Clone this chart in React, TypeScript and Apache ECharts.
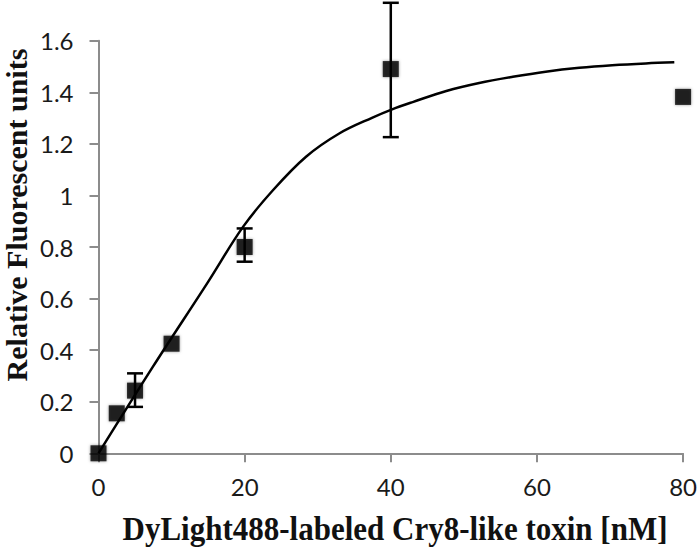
import React, { useEffect, useRef } from "react";
import * as echarts from "echarts";

const pointX = [0, 2.5, 5, 10, 20, 40, 80];
const pointY = [0, 0.155, 0.243, 0.425, 0.8, 1.49, 1.382];
const errLow = [0, 0, 0.18, 0, 0.743, 1.226, 0];
const errHigh = [0, 0, 0.31, 0, 0.872, 1.747, 0];
const hasErr = [false, false, true, false, true, true, false];

const curveX = [0, 7.45, 15, 19.8, 23.9, 28.4, 33, 37.5, 40.1, 43, 47.6, 52.1, 56.7, 61.2, 65.8, 70.3, 74.9, 78.8];
const curveY = [0, 0.336, 0.665, 0.879, 1.021, 1.15, 1.241, 1.302, 1.333, 1.362, 1.405, 1.436, 1.46, 1.48, 1.495, 1.505, 1.512, 1.516];

const xTicks = [0, 20, 40, 60, 80];
const yTicks = [0, 0.2, 0.4, 0.6, 0.8, 1, 1.2, 1.4, 1.6];

const xTitle = "DyLight488-labeled Cry8-like toxin [nM]";
const yTitle = "Relative Fluorescent units";

export default function App() {
  const ref = useRef<HTMLDivElement>(null);
  useEffect(() => {
    if (!ref.current) return;
    const chart = echarts.init(ref.current, null, { renderer: "svg" });
    const axisColor = "#8c8c8c";
    const labelFont = { fontFamily: "Lato", fontSize: 24, color: "#1a1a1a" };
    const errData = pointX
      .map((x, i) => (hasErr[i] ? [x, errLow[i], errHigh[i]] : null))
      .filter((d) => d !== null) as number[][];
    chart.setOption({
      animation: false,
      backgroundColor: "#ffffff",
      grid: { left: 98.5, right: 16, top: 40.7, bottom: 95.7, containLabel: false },
      xAxis: {
        type: "value",
        min: xTicks[0],
        max: xTicks[xTicks.length - 1],
        interval: 20,
        axisLine: { show: true, lineStyle: { color: axisColor, width: 2 } },
        axisTick: { show: true, length: 9, lineStyle: { color: axisColor, width: 2 } },
        axisLabel: { ...labelFont, margin: 21 },
        splitLine: { show: false },
      },
      yAxis: {
        type: "value",
        min: yTicks[0],
        max: yTicks[yTicks.length - 1],
        interval: 0.2,
        axisLine: { show: true, lineStyle: { color: axisColor, width: 2 } },
        axisTick: { show: true, length: 9, lineStyle: { color: axisColor, width: 2 } },
        axisLabel: {
          ...labelFont,
          margin: 25,
          formatter: (v: number) => String(parseFloat(v.toFixed(1))),
        },
        splitLine: { show: false },
      },
      graphic: [
        {
          type: "text",
          x: 395,
          y: 528,
          scaleY: 1.12,
          style: {
            text: xTitle,
            font: "bold 31px 'Liberation Serif'",
            fill: "#111",
            align: "center",
            verticalAlign: "middle",
          },
        },
        {
          type: "text",
          x: 1,
          y: 215,
          rotation: Math.PI / 2,
          style: {
            text: yTitle,
            font: "bold 30px 'Liberation Serif'",
            fill: "#111",
            align: "center",
            verticalAlign: "top",
          },
        },
      ],
      series: [
        {
          type: "line",
          data: curveX.map((x, i) => [x, curveY[i]]),
          smooth: 0.35,
          showSymbol: false,
          symbol: "none",
          lineStyle: { color: "#000", width: 2.5 },
          clip: false,
          z: 2,
        },
        {
          type: "custom",
          data: errData,
          clip: false,
          z: 3,
          renderItem: (params: any, api: any) => {
            const x = api.value(0);
            const lo = api.coord([x, api.value(1)]);
            const hi = api.coord([x, api.value(2)]);
            const hw = 8;
            const st = { stroke: "#000", lineWidth: 2.5 };
            return {
              type: "group",
              children: [
                { type: "line", shape: { x1: lo[0], y1: lo[1], x2: hi[0], y2: hi[1] }, style: st },
                { type: "line", shape: { x1: lo[0] - hw, y1: lo[1], x2: lo[0] + hw, y2: lo[1] }, style: st },
                { type: "line", shape: { x1: hi[0] - hw, y1: hi[1], x2: hi[0] + hw, y2: hi[1] }, style: st },
              ],
            };
          },
        },
        {
          type: "scatter",
          data: pointX.map((x, i) => [x, pointY[i]]),
          symbol: "rect",
          symbolSize: 16,
          clip: false,
          itemStyle: { color: "#000", shadowBlur: 3, shadowColor: "rgba(0,0,0,0.5)" },
          z: 4,
        },
      ],
    });
    return () => chart.dispose();
  }, []);
  return <div ref={ref} style={{ width: 700, height: 549, position: "absolute", left: 0, top: 0 }} />;
}
